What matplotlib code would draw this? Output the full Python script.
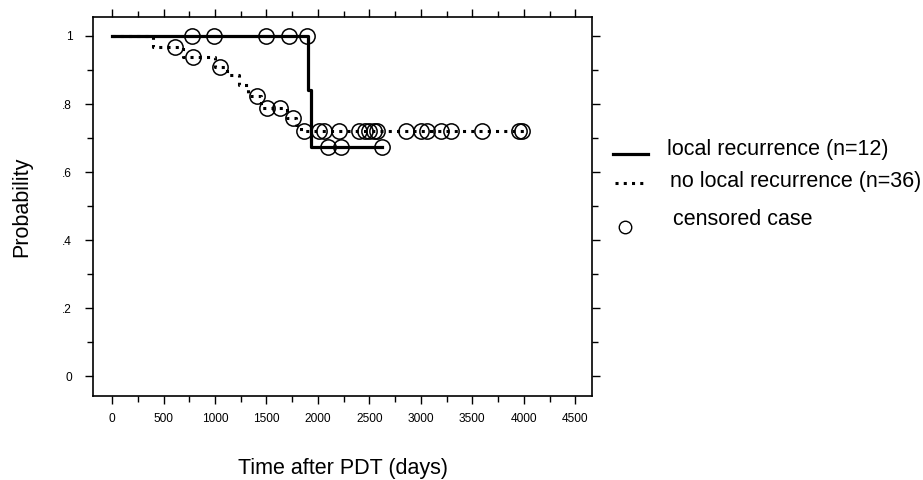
import numpy as np
import matplotlib
matplotlib.use("Agg")
import matplotlib.pyplot as plt
from matplotlib.lines import Line2D
from matplotlib.ticker import MultipleLocator

plt.rcParams['font.family'] = ['Liberation Sans', 'DejaVu Sans']

# Kaplan-Meier step curves (time in days, survival after that time)
rec_t = [0, 1900, 1934, 2624]
rec_s = [1.0, 0.84, 0.673, 0.673]
rec_cens = [777, 991, 1497, 1720, 1895, 2099, 2226, 2624]

norec_t = [0, 400, 690, 1000, 1120, 1230, 1320, 1450, 1700, 1790, 1840, 4000]
norec_s = [1.0, 0.968, 0.938, 0.909, 0.885, 0.855, 0.824, 0.789, 0.759, 0.738, 0.72, 0.72]
norec_cens = [612, 787, 1050, 1409, 1506, 1633, 1759, 1866, 2012, 2060, 2206, 2400,
              2459, 2497, 2546, 2575, 2857, 3003, 3061, 3197, 3294, 3595, 3955, 3985]

xticks = [0, 500, 1000, 1500, 2000, 2500, 3000, 3500, 4000, 4500]
yticks = [0, 0.2, 0.4, 0.6, 0.8, 1.0]
ytick_labels = ['0', '.2', '.4', '.6', '.8', '1']


def step_value(times, surv, t):
    i = np.searchsorted(times, t, side='right') - 1
    return np.asarray(surv)[i]


fig = plt.figure(figsize=(9.23, 4.8), dpi=100)
ax = fig.add_axes([0.1008, 0.175, 0.5406, 0.7896])

ax.step(norec_t, norec_s, where='post', color='black', lw=2.2,
        linestyle=(0, (1, 1.7)), dash_capstyle='butt')
ax.step(rec_t, rec_s, where='post', color='black', lw=2.3)

mk = dict(marker='o', linestyle='none', markersize=11, markerfacecolor='none',
          markeredgecolor='black', markeredgewidth=1.1)
ax.plot(norec_cens, step_value(norec_t, norec_s, norec_cens), **mk)
ax.plot(rec_cens, step_value(rec_t, rec_s, rec_cens), **mk)

ax.set_xlim(-185, 4663)
ax.set_ylim(-0.0588, 1.0559)
ax.set_xticks(xticks)
ax.set_yticks(yticks)
ax.set_yticklabels(ytick_labels)
ax.xaxis.set_minor_locator(MultipleLocator(250))
ax.yaxis.set_minor_locator(MultipleLocator(0.1))

ax.tick_params(axis='x', which='both', direction='out', top=True, labeltop=False,
               labelsize=8.6, pad=6)
ax.tick_params(axis='y', which='both', direction='out', right=True, labelright=False,
               labelsize=8.6, pad=9)
ax.tick_params(which='major', length=6, width=1.0)
ax.tick_params(which='minor', length=4, width=1.0)
for s in ax.spines.values():
    s.set_linewidth(1.2)

ax.set_xlabel('Time after PDT (days)', fontsize=15.5, labelpad=24)
ax.set_ylabel('Probability', fontsize=15.5, labelpad=22)

# legend drawn to the right of the axes
fig.add_artist(Line2D([0.664, 0.702], [0.679, 0.679], transform=fig.transFigure,
                      color='black', lw=2.3))
fig.add_artist(Line2D([0.666, 0.699], [0.619, 0.619], transform=fig.transFigure,
                      color='black', lw=2.2, linestyle=(0, (1, 1.7))))
fig.add_artist(Line2D([0.677], [0.527], transform=fig.transFigure, marker='o',
                      markersize=9, markerfacecolor='none', markeredgecolor='black',
                      markeredgewidth=1.0, linestyle='none'))
fig.text(0.7227, 0.6875, 'local recurrence (n=12)', fontsize=15.5, va='center')
fig.text(0.726, 0.621, 'no local recurrence (n=36)', fontsize=15.5, va='center')
fig.text(0.729, 0.542, 'censored case', fontsize=15.5, va='center')

fig.savefig('out.png', dpi=100)
